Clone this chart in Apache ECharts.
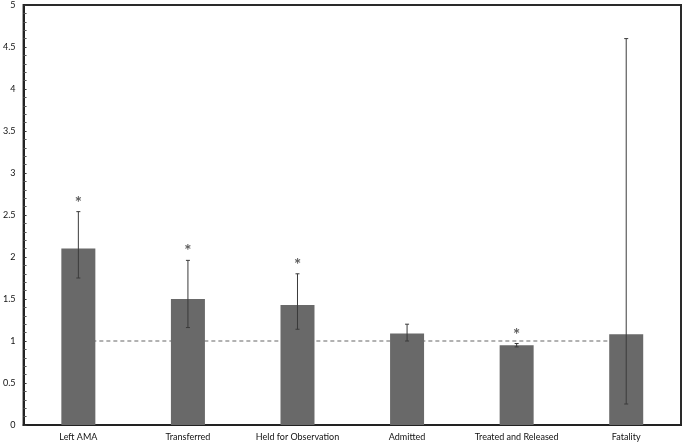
<!DOCTYPE html>
<html><head><meta charset="utf-8">
<script src="https://cdn.jsdelivr.net/npm/echarts@6/dist/echarts.min.js"></script>
<style>html,body{margin:0;padding:0;background:#fff}#c{width:684px;height:443px}</style>
</head><body><div id="c"></div>
<script>
const categories = ['Left AMA','Transferred','Held for Observation','Admitted','Treated and Released','Fatality'];
const values = [2.10, 1.50, 1.43, 1.09, 0.95, 1.08];
const lower = [1.75, 1.16, 1.14, 1.00, 0.93, 0.25];
const upper = [2.54, 1.96, 1.80, 1.20, 0.97, 4.60];
const significant = [true, true, true, false, true, false];
const reference = [1, 1, 1, 1, 1, 1];
const yTicks = [0, 0.5, 1, 1.5, 2, 2.5, 3, 3.5, 4, 4.5, 5];

const FONT = 'Lato';
const chart = echarts.init(document.getElementById('c'), null, {renderer: 'canvas'});
chart.setOption({
  animation: false,
  backgroundColor: '#fff',
  grid: {left: 22, right: 3, top: 5, bottom: 18, show: true, borderColor: '#2a2a2a', borderWidth: 2},
  xAxis: {
    type: 'category', data: categories,
    axisLine: {lineStyle: {color: '#222', width: 2}},
    axisTick: {show: false},
    axisLabel: {color: '#111', fontFamily: FONT, fontSize: 9, margin: 8, interval: 0}
  },
  yAxis: {
    type: 'value', min: yTicks[0], max: yTicks[yTicks.length - 1], interval: yTicks[1] - yTicks[0],
    axisLine: {show: true, lineStyle: {color: '#222', width: 2}},
    axisTick: {show: true, inside: true, length: 3, lineStyle: {color: '#333', width: 1}},
    minorTick: {show: true, splitNumber: 5, length: 3, lineStyle: {color: '#555', width: 1}},
    splitLine: {show: false},
    axisLabel: {color: '#111', fontFamily: FONT, fontSize: 9, margin: 8}
  },
  series: [
    {
      type: 'line', data: reference, symbol: 'none', z: 1,
      lineStyle: {color: '#999', width: 1.5, type: [4, 3]}
    },
    {
      type: 'bar', data: values, barWidth: 34, z: 2,
      itemStyle: {color: '#696969'}
    },
    {
      type: 'custom', z: 3,
      data: categories.map((c, i) => [i, lower[i], upper[i]]),
      renderItem: function (params, api) {
        const x = api.value(0);
        const lo = api.coord([x, api.value(1)]);
        const hi = api.coord([x, api.value(2)]);
        const w = 2;
        const style = {stroke: '#3a3a3a', lineWidth: 1};
        return {type: 'group', children: [
          {type: 'line', shape: {x1: lo[0], y1: lo[1], x2: hi[0], y2: hi[1]}, style: style},
          {type: 'line', shape: {x1: lo[0] - w, y1: lo[1], x2: lo[0] + w, y2: lo[1]}, style: style},
          {type: 'line', shape: {x1: hi[0] - w, y1: hi[1], x2: hi[0] + w, y2: hi[1]}, style: style}
        ]};
      }
    },
    {
      type: 'scatter', z: 4, symbolSize: 0, symbol: 'circle',
      data: categories.map((c, i) => significant[i] ? [i, upper[i]] : null).filter(d => d),
      label: {show: true, position: 'top', distance: 0, formatter: '*', color: '#333',
        fontFamily: FONT, fontSize: 17, fontWeight: 'bold'}
    }
  ]
});
</script></body></html>
